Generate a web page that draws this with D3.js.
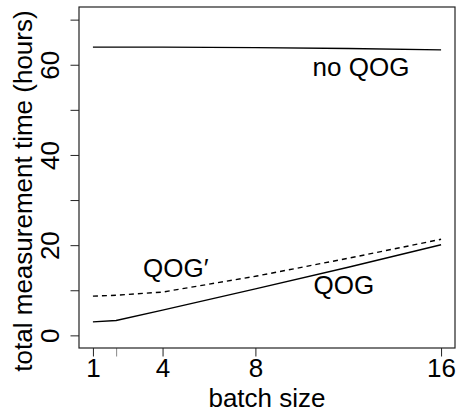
<!DOCTYPE html>
<html>
<head>
<meta charset="utf-8">
<script src="https://cdn.jsdelivr.net/npm/d3@7"></script>
<style>
  body { margin: 0; background: #fff; }
  text { font-family: "Liberation Sans", Arial, sans-serif; }
</style>
</head>
<body>
<script>
// batch sizes and total time (hours) for each strategy
var batch = [1, 2, 4, 8, 12, 16];
var qog = [3.0, 3.3, 5.6, 10.3, 15.1, 20.1];
var qogPrime = [8.7, 8.9, 9.6, 13.1, 17.1, 21.3];
var noQog = [63.9, 63.9, 63.9, 63.8, 63.6, 63.3];

var xTicks = [1, 2, 4, 8, 16];
var xLabels = ["1", "", "4", "8", "16"];
var yTicks = [0, 10, 20, 30, 40, 50, 60, 70];
var yLabels = ["0", "", "20", "", "40", "", "60", ""];

var width = 458;
var height = 413;
var margin = {top: 7, right: 3, bottom: 65, left: 79};
var fontSize = 26;

var svg = d3.select("body")
    .append("svg")
    .attr("width", width)
    .attr("height", height);

// R style: range padded by 4%
var x = d3.scaleLinear()
    .domain([0.4, 16.6])
    .range([margin.left, width - margin.right]);
var y = d3.scaleLinear()
    .domain([-2.8, 72.8])
    .range([height - margin.bottom, margin.top]);

var line = d3.line()
    .x(function (d) { return x(d[0]); })
    .y(function (d) { return y(d[1]); });

function pairs(vals) {
    return batch.map(function (b, i) { return [b, vals[i]]; });
}

svg.append("path")
    .attr("d", line(pairs(noQog)))
    .attr("fill", "none")
    .attr("stroke", "#000")
    .attr("stroke-width", 1.4);

svg.append("path")
    .attr("d", line(pairs(qog)))
    .attr("fill", "none")
    .attr("stroke", "#000")
    .attr("stroke-width", 1.4);

svg.append("path")
    .attr("d", line(pairs(qogPrime)))
    .attr("fill", "none")
    .attr("stroke", "#000")
    .attr("stroke-width", 1.4)
    .attr("stroke-dasharray", "5,4");

// axes
var xAxis = svg.append("g")
    .attr("transform", "translate(0," + (height - margin.bottom) + ")")
    .call(d3.axisBottom(x)
        .tickValues(xTicks)
        .tickSize(8.5)
        .tickPadding(2.5)
        .tickFormat(function (d, i) { return xLabels[i]; }));
xAxis.select(".domain").remove();
xAxis.selectAll("line").attr("stroke", function (d, i) { return xLabels[i] === "" ? "#888" : "#222"; });
xAxis.selectAll("text")
    .attr("font-size", fontSize)
    .attr("font-family", "Liberation Sans, Arial, sans-serif")
    .attr("fill", "#000");

var yAxis = svg.append("g")
    .attr("transform", "translate(" + margin.left + ",0)")
    .call(d3.axisLeft(y)
        .tickValues(yTicks)
        .tickSize(8.5)
        .tickFormat(function (d, i) { return yLabels[i]; }));
yAxis.select(".domain").remove();
yAxis.selectAll("line").attr("stroke", "#222");
yAxis.selectAll("text")
    .attr("transform", "rotate(-90)")
    .attr("x", 0)
    .attr("y", -19.7)
    .attr("dy", 0)
    .attr("text-anchor", "middle")
    .attr("font-size", fontSize)
    .attr("font-family", "Liberation Sans, Arial, sans-serif")
    .attr("fill", "#000");

// frame
svg.append("rect")
    .attr("x", margin.left)
    .attr("y", margin.top)
    .attr("width", width - margin.left - margin.right)
    .attr("height", height - margin.top - margin.bottom)
    .attr("fill", "none")
    .attr("stroke", "#222")
    .attr("stroke-width", 1.2);

// titles
svg.append("text")
    .attr("x", (margin.left + width - margin.right) / 2)
    .attr("y", 407)
    .attr("text-anchor", "middle")
    .attr("font-size", fontSize)
    .text("batch size");

svg.append("text")
    .attr("transform", "translate(32,191) rotate(-90)")
    .attr("text-anchor", "middle")
    .attr("font-size", fontSize)
    .text("total measurement time (hours)");

// curve labels, placed in data units
var labels = [
    {text: "no QOG", b: 12.55, h: 57.5},
    {text: "QOG\u2032", b: 4.57, h: 13.0},
    {text: "QOG", b: 11.81, h: 9.17}
];
svg.selectAll(".lbl")
    .data(labels)
    .enter()
    .append("text")
    .attr("class", "lbl")
    .attr("x", function (d) { return x(d.b); })
    .attr("y", function (d) { return y(d.h); })
    .attr("text-anchor", "middle")
    .attr("font-size", fontSize)
    .text(function (d) { return d.text; });
</script>
</body>
</html>
